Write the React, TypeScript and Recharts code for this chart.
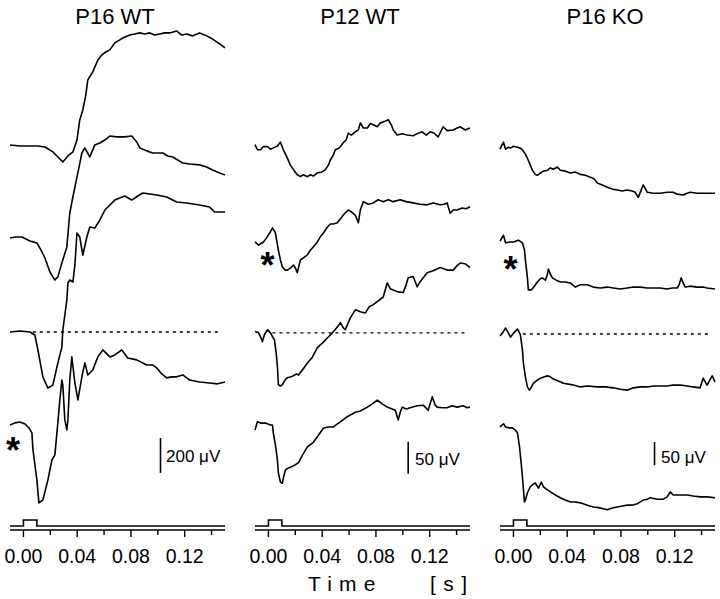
import React from 'react';
import { LineChart, Line, XAxis, YAxis, ReferenceLine } from 'recharts';

// times in ms, amplitudes in µV relative to each sweep's pre-stimulus level

// --- P16 WT (4 sweeps, top to bottom)
const p16wtA_t = [-10, -2.6, 4.8, 10.8, 16.0, 21.9, 25.6, 29.3, 33.1, 36.8, 39.8, 41.9, 44.2, 46.4, 47.9, 51.6, 55.4, 58.3, 61.3, 64.3, 68.0, 71.7, 73.9, 79.1, 82.8, 86.6, 90.3, 94.0, 97.7, 101.4, 105.1, 108.8, 114.0, 117.7, 121.5, 125.9, 131.1, 136.3, 140.8, 146.0, 150];
const p16wtA_v = [6, 0, 0, 0, -6, -34, -63, -91, -57, -34, 34, 149, 206, 291, 377, 423, 491, 520, 537, 549, 589, 606, 617, 634, 640, 646, 640, 646, 634, 640, 646, 646, 657, 634, 640, 629, 646, 629, 611, 583, 560];
const p16wtB_t = [-10, -5.6, -1.1, 4.8, 10.0, 13.0, 16.0, 19.7, 23.4, 25.6, 28.6, 32.3, 34.5, 36.8, 40.5, 43.5, 45.7, 49.4, 53.1, 56.8, 60.6, 64.3, 69.5, 75.4, 80.6, 84.3, 86.6, 91.8, 96.2, 103.7, 107.4, 111.1, 114.8, 118.5, 123.7, 131.1, 136.3, 140.8, 146.0, 150];
const p16wtB_v = [11, 17, 17, -6, -17, -57, -103, -183, -229, -211, -131, -40, 154, 246, 383, 497, 526, 474, 543, 554, 571, 594, 589, 589, 594, 560, 526, 509, 497, 497, 480, 474, 457, 440, 434, 429, 417, 400, 383, 371];
const p16wtC_t = [-10, -2.6, 4.8, 8.5, 10.8, 14.5, 18.2, 21.9, 25.6, 28.6, 29.3, 32.3, 33.1, 34.5, 36.8, 38.3, 39.8, 41.9, 44.2, 47.2, 49.4, 53.1, 56.8, 60.6, 64.3, 68.0, 71.7, 75.4, 80.6, 85.1, 88.8, 94.0, 99.2, 106.6, 114.0, 121.5, 131.1, 138.5, 142.3, 150];
const p16wtC_v = [0, 6, 0, -17, -103, -257, -320, -303, -177, -86, 11, 183, 280, 297, 286, 383, 566, 543, 440, 543, 600, 594, 640, 697, 726, 754, 766, 777, 754, 777, 794, 789, 783, 771, 743, 737, 726, 714, 686, 686];
const p16wtD_t = [-10, -6.3, -2.6, 1.1, 4.1, 6.3, 7.1, 10.0, 11.5, 14.5, 18.2, 21.2, 23.4, 25.6, 27.1, 28.6, 29.3, 30.8, 32.3, 33.1, 34.5, 36.0, 38.3, 40.5, 43.5, 45.7, 47.9, 49.4, 51.6, 55.4, 59.1, 64.3, 68.0, 73.2, 77.6, 84.3, 91.8, 96.2, 99.2, 102.9, 106.6, 110.3, 114.0, 118.5, 123.7, 131.1, 138.5, 144.5, 150];
const p16wtD_v = [-6, 6, 11, 0, -23, -51, -149, -320, -451, -434, -320, -206, -177, 6, 137, 251, 223, 23, -34, 23, 251, 383, 234, 137, 269, 349, 280, 291, 309, 383, 423, 383, 394, 423, 377, 366, 337, 337, 320, 286, 263, 269, 269, 280, 251, 240, 234, 229, 240];
const p16wtOffsets = [2194, 1657, 1131, 606];

// --- P12 WT
const p12wtA_t = [-10, -8.2, -5.9, -3.7, -0.7, 1.5, 3.7, 6.7, 8.9, 11.1, 14.1, 16.3, 19.3, 21.5, 23.8, 26.0, 29.0, 31.2, 33.4, 36.4, 39.4, 42.4, 44.6, 46.1, 48.3, 49.8, 52.8, 55.7, 58.0, 59.4, 61.7, 64.6, 66.9, 68.4, 70.6, 73.6, 75.8, 78.0, 81.0, 83.2, 86.2, 89.2, 91.4, 92.9, 95.8, 99.6, 103.3, 107.7, 111.5, 114.4, 117.4, 120.4, 123.3, 126.3, 130.0, 133.0, 137.5, 140.4, 142.7, 146.4, 150];
const p12wtA_v = [5, -3, -3, 2, 2, -2, 0, 3, 9, -3, -16, -27, -36, -42, -45, -42, -45, -42, -44, -39, -38, -34, -27, -19, -11, -3, 0, 8, 13, 23, 20, 25, 28, 39, 31, 31, 38, 36, 33, 39, 41, 44, 36, 28, 20, 22, 20, 19, 23, 25, 20, 25, 23, 17, 33, 27, 28, 31, 33, 28, 31];
const p12wtB_t = [-10, -7.4, -5.2, -3.7, -1.5, 1.5, 3.0, 4.5, 5.2, 7.4, 8.9, 10.4, 12.6, 14.1, 16.3, 18.6, 20.1, 21.5, 23.8, 26.0, 29.0, 31.2, 33.4, 36.4, 38.6, 40.9, 43.8, 46.1, 48.3, 51.3, 53.5, 56.5, 59.4, 61.7, 64.6, 66.9, 68.4, 70.6, 74.3, 78.0, 81.7, 85.4, 89.2, 92.9, 98.1, 102.5, 107.7, 112.9, 118.1, 122.6, 127.8, 130.8, 133.0, 135.2, 137.5, 140.4, 144.1, 147.1, 150];
const p12wtB_v = [0, -5, -2, 0, 6, 16, 22, 17, 14, -13, -28, -39, -44, -44, -41, -36, -41, -48, -28, -25, -20, -13, -8, 0, 8, 14, 23, 28, 28, 30, 36, 44, 50, 47, 42, 30, 50, 63, 59, 61, 66, 63, 66, 63, 66, 63, 61, 59, 58, 61, 58, 59, 61, 45, 50, 50, 53, 52, 55];
const p12wtC_t = [-10, -7.4, -5.9, -4.5, -3.0, -0.7, 1.5, 3.0, 4.5, 5.9, 6.7, 7.4, 8.9, 10.4, 12.6, 14.1, 16.3, 18.6, 20.8, 22.3, 25.3, 29.0, 32.7, 36.4, 40.1, 43.8, 47.6, 51.3, 53.5, 55.7, 57.2, 60.9, 64.6, 68.4, 72.1, 75.0, 78.0, 81.7, 85.4, 88.4, 90.6, 92.9, 96.6, 100.3, 102.5, 104.0, 107.7, 110.7, 112.9, 118.1, 122.6, 127.8, 133.0, 137.5, 140.4, 142.7, 146.4, 150];
const p12wtC_v = [2, 0, -6, -14, -3, 5, 0, -6, -11, -34, -53, -81, -83, -81, -73, -70, -69, -67, -64, -66, -58, -47, -38, -23, -16, -8, 0, 9, 16, 8, 5, 23, 36, 33, 31, 41, 44, 50, 56, 78, 69, 67, 64, 63, 75, 86, 88, 72, 80, 94, 97, 102, 98, 98, 105, 109, 108, 102];
const p12wtD_t = [-10, -8.2, -5.9, -2.2, 1.5, 3.0, 3.7, 5.2, 6.7, 7.4, 8.9, 10.4, 11.1, 12.6, 14.9, 16.3, 19.3, 22.3, 25.3, 29.0, 33.4, 37.2, 40.9, 44.6, 48.3, 53.5, 58.7, 64.6, 68.4, 73.6, 77.3, 81.0, 84.7, 88.4, 92.1, 94.4, 96.6, 98.1, 99.6, 102.5, 105.5, 110.7, 115.2, 118.9, 121.9, 124.1, 125.6, 129.3, 133.0, 136.7, 140.4, 144.9, 147.9, 150];
const p12wtD_v = [-8, 5, 3, 3, 0, 0, -13, -31, -55, -75, -89, -91, -83, -70, -67, -66, -63, -59, -47, -34, -27, -16, -5, -3, -3, 5, 13, 20, 22, 28, 33, 39, 33, 28, 25, 23, 8, 20, 28, 25, 27, 30, 31, 23, 44, 31, 28, 27, 27, 30, 28, 30, 27, 28];
const p12wtOffsets = [597, 450, 308, 164];

// --- P16 KO
const p16koA_t = [-10, -7.4, -5.9, -3.7, -2.2, 0, 3.0, 5.2, 6.7, 8.9, 10.4, 12.6, 14.1, 16.3, 17.8, 20.1, 22.3, 25.3, 27.5, 29.7, 32.7, 34.9, 38.6, 42.4, 46.1, 49.8, 53.5, 57.2, 60.2, 62.4, 66.1, 69.8, 73.6, 77.3, 81.0, 84.7, 88.4, 90.6, 92.9, 96.6, 99.6, 104.0, 109.2, 114.4, 118.9, 121.9, 126.3, 129.3, 131.5, 136.7, 142.7, 150];
const p16koA_v = [-2, 13, -2, 2, 0, 4, 2, 0, -4, -13, -22, -37, -48, -57, -59, -54, -50, -48, -43, -46, -41, -48, -50, -54, -52, -57, -59, -63, -67, -76, -80, -85, -89, -91, -93, -91, -93, -96, -107, -80, -96, -98, -98, -96, -96, -100, -102, -98, -96, -98, -98, -98];
const p16koB_t = [-10, -7.4, -5.9, -3.0, 0, 3.7, 6.7, 8.2, 8.9, 10.4, 11.1, 13.4, 15.6, 17.8, 20.1, 21.5, 23.8, 25.3, 26.0, 27.5, 29.0, 31.9, 34.9, 38.6, 42.4, 46.1, 49.8, 55.0, 59.4, 64.6, 69.8, 74.3, 79.5, 84.7, 89.2, 94.4, 99.6, 104.0, 109.2, 114.4, 118.1, 121.9, 123.3, 124.8, 126.3, 127.8, 131.5, 136.7, 141.2, 144.1, 150];
const p16koB_v = [2, 15, -2, 0, 0, 4, -2, -17, -39, -78, -104, -104, -96, -87, -80, -78, -83, -70, -59, -70, -78, -83, -87, -87, -89, -98, -93, -93, -98, -100, -98, -100, -102, -100, -98, -98, -100, -100, -100, -102, -100, -100, -93, -78, -89, -98, -96, -98, -98, -100, -102];
const p16koC_t = [-10, -8.2, -5.9, -3.7, -2.2, 0, 3.0, 5.2, 6.7, 7.4, 8.9, 10.4, 11.9, 13.4, 14.9, 17.8, 20.1, 23.0, 25.3, 27.5, 29.7, 33.4, 37.2, 40.9, 44.6, 49.8, 55.0, 62.4, 68.4, 74.3, 79.5, 84.7, 89.2, 94.4, 99.6, 104.0, 109.2, 114.4, 118.9, 124.1, 129.3, 133.7, 138.9, 141.2, 144.1, 147.9, 150];
const p16koC_v = [-4, 2, 13, 2, -7, 2, 11, -2, -35, -63, -93, -115, -122, -115, -107, -100, -96, -93, -91, -93, -98, -102, -107, -109, -111, -115, -113, -115, -115, -117, -120, -122, -117, -115, -115, -113, -113, -113, -111, -111, -113, -115, -117, -96, -111, -91, -104];
const p16koD_t = [-10, -7.4, -5.9, -3.0, -0.7, 1.5, 3.0, 4.5, 5.9, 6.7, 8.2, 8.9, 10.4, 12.6, 14.9, 16.3, 18.6, 20.8, 22.3, 24.5, 27.5, 31.2, 34.9, 38.6, 42.4, 46.1, 49.8, 55.0, 59.4, 64.6, 69.8, 73.6, 77.3, 81.0, 84.7, 88.4, 92.1, 94.4, 96.6, 99.6, 101.8, 107.0, 111.5, 114.4, 116.7, 118.9, 124.1, 129.3, 133.7, 138.9, 144.1, 150];
const p16koD_v = [0, 7, 0, -2, -2, -7, -13, -43, -83, -109, -163, -159, -143, -130, -124, -122, -133, -120, -130, -135, -141, -148, -154, -159, -163, -163, -165, -170, -174, -176, -180, -176, -174, -172, -170, -170, -167, -163, -159, -157, -154, -157, -157, -152, -141, -148, -148, -148, -150, -152, -152, -154];
const p16koOffsets = [830, 626, 426, 224];

// stimulus pulse (ms, on/off)
const stimT = [-10, 0, 0, 10, 10, 150];
const stimOn = [0, 0, 1, 1, 0, 0];

const tickValues = [0, 0.02, 0.04, 0.06, 0.08, 0.1, 0.12, 0.14];
const tickLabels = ['0.00', '', '0.04', '', '0.08', '', '0.12', ''];

const panelTitles = ['P16 WT', 'P12 WT', 'P16 KO'];
const scaleLabels = ['200 μV', '50 μV', '50 μV'];
const scaleSizes = [200, 50, 50];

const FONT = "'Liberation Sans', Arial, Helvetica, sans-serif";
const INK = '#000';
const LW = 1.6;

const zip = (t: number[], v: number[], off: number) =>
  t.map((ms, i) => ({ t: ms / 1000, v: v[i] + off }));

const stimData = stimT.map((ms, i) => ({ t: ms / 1000, v: stimOn[i] }));

const panels = [
  {
    left: 0,
    yMax: 3028,
    sweeps: [
      zip(p16wtA_t, p16wtA_v, p16wtOffsets[0]),
      zip(p16wtB_t, p16wtB_v, p16wtOffsets[1]),
      zip(p16wtC_t, p16wtC_v, p16wtOffsets[2]),
      zip(p16wtD_t, p16wtD_v, p16wtOffsets[3]),
    ],
    baseline: p16wtOffsets[2],
    dotted: [0.007, 0.146],
    bar: { t: 0.102, from: 326 },
  },
  {
    left: 244.5,
    yMax: 828,
    sweeps: [
      zip(p12wtA_t, p12wtA_v, p12wtOffsets[0]),
      zip(p12wtB_t, p12wtB_v, p12wtOffsets[1]),
      zip(p12wtC_t, p12wtC_v, p12wtOffsets[2]),
      zip(p12wtD_t, p12wtD_v, p12wtOffsets[3]),
    ],
    baseline: p12wtOffsets[2],
    dotted: [0.003, 0.148],
    bar: { t: 0.104, from: 88 },
  },
  {
    left: 489.5,
    yMax: 1152,
    sweeps: [
      zip(p16koA_t, p16koA_v, p16koOffsets[0]),
      zip(p16koB_t, p16koB_v, p16koOffsets[1]),
      zip(p16koC_t, p16koC_v, p16koOffsets[2]),
      zip(p16koD_t, p16koD_v, p16koOffsets[3]),
    ],
    baseline: p16koOffsets[2],
    dotted: [0.007, 0.146],
    bar: { t: 0.105, from: 141 },
  },
];

const TimeTick = (props: any) => {
  const { x, y, index } = props;
  const label = tickLabels[index] || '';
  return (
    <g>
      <line x1={x} y1={y} x2={x} y2={y + (label ? 7 : 5)} stroke={INK} strokeWidth={1.4} />
      {label && (
        <text x={x} y={y + 33} textAnchor="middle" fontSize={19.5} fill={INK} fontFamily={FONT}>
          {label}
        </text>
      )}
    </g>
  );
};

function Panel({ p, i }: { p: any; i: number }) {
  return (
    <div style={{ position: 'absolute', left: p.left, top: 0 }}>
      <LineChart width={235} height={599} margin={{ top: 0, right: 10, bottom: 29, left: 10 }}>
        <XAxis
          dataKey="t"
          type="number"
          domain={[-0.01, 0.15]}
          ticks={tickValues}
          interval={0}
          height={40}
          tickLine={false}
          tickSize={0}
          tickMargin={0}
          tick={<TimeTick />}
          axisLine={{ stroke: INK, strokeWidth: LW }}
        />
        <YAxis yAxisId="uv" type="number" hide domain={[0, p.yMax]} allowDataOverflow />
        <YAxis yAxisId="stim" type="number" hide domain={[-0.667, 87.667]} allowDataOverflow />
        <ReferenceLine
          yAxisId="uv"
          segment={[{ x: p.dotted[0], y: p.baseline }, { x: p.dotted[1], y: p.baseline }]}
          stroke={INK}
          strokeWidth={1.4}
          strokeDasharray="3 4"
        />
        <ReferenceLine
          yAxisId="uv"
          segment={[{ x: p.bar.t, y: p.bar.from }, { x: p.bar.t, y: p.bar.from + scaleSizes[i] }]}
          stroke={INK}
          strokeWidth={LW}
        />
        {p.sweeps.map((d: any, k: number) => (
          <Line
            key={k}
            yAxisId="uv"
            data={d}
            dataKey="v"
            type="linear"
            dot={false}
            activeDot={false}
            stroke={INK}
            strokeWidth={LW}
            strokeLinejoin="round"
            isAnimationActive={false}
          />
        ))}
        <Line
          yAxisId="stim"
          data={stimData}
          dataKey="v"
          type="linear"
          dot={false}
          activeDot={false}
          stroke={INK}
          strokeWidth={LW}
          isAnimationActive={false}
        />
      </LineChart>
    </div>
  );
}

export default function App() {
  const titleX = [115, 360, 605];
  const starPos = [[13, 463], [267.5, 278], [510.5, 282]];
  const scaleText = [[166, 462], [415, 465], [661, 463]];
  return (
    <div style={{ position: 'absolute', left: 0, top: 0, width: 720, height: 599, background: '#fff', overflow: 'hidden' }}>
      {panels.map((p, i) => <Panel key={i} p={p} i={i} />)}
      <svg width={720} height={599} style={{ position: 'absolute', left: 0, top: 0, pointerEvents: 'none' }}>
        {panelTitles.map((t, i) => (
          <text key={t} x={titleX[i]} y={24} textAnchor="middle" fontSize={22} fill={INK} fontFamily={FONT}>{t}</text>
        ))}
        {starPos.map(([x, y], i) => (
          <text key={i} x={x} y={y} textAnchor="middle" fontSize={36} fontWeight="bold" fill={INK} fontFamily={FONT}>*</text>
        ))}
        {scaleLabels.map((s, i) => (
          <text key={i} x={scaleText[i][0]} y={scaleText[i][1]} fontSize={17} fill={INK} fontFamily={FONT}>{s}</text>
        ))}
        <text x={308} y={591} fontSize={21} letterSpacing={7.2} fill={INK} fontFamily={FONT}>Time</text>
        <text x={430} y={591} fontSize={21} letterSpacing={7.5} fill={INK} fontFamily={FONT}>[s]</text>
      </svg>
    </div>
  );
}
